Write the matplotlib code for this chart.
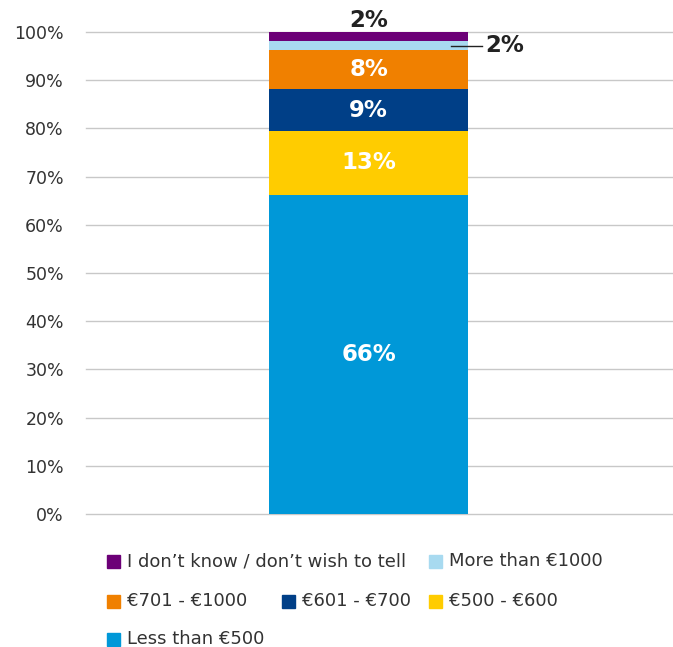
import matplotlib.pyplot as plt
from matplotlib.patches import Rectangle

# data, bottom to top
categories = ["Less than €500", "€500 - €600", "€601 - €700", "€701 - €1000",
              "More than €1000", "I don\u2019t know / don\u2019t wish to tell"]
values = [66.2, 13.3, 8.6, 8.1, 1.9, 1.9]
labels = ["66%", "13%", "9%", "8%", "2%", "2%"]
colors = ["#0098D8", "#FFCC00", "#003F87", "#F08000", "#A8DAF0", "#6C0077"]
yticks = [0, 10, 20, 30, 40, 50, 60, 70, 80, 90, 100]

plt.rcParams['font.family'] = ['DejaVu Sans']

fig = plt.figure(figsize=(6.73, 6.47), dpi=100)
ax = fig.add_axes([0.128, 0.2056, 0.872, 0.7449])

bottom = 0
for i, v in enumerate(values):
    ax.bar(0, v, width=0.5, bottom=bottom, color=colors[i], zorder=3)
    mid = bottom + v / 2
    if i < 4:
        ax.text(0, mid, labels[i], ha='center', va='center', color='white',
                fontsize=16.5, fontweight='bold', zorder=4)
    elif i == 4:
        # leader line to the right of the thin segment
        ax.plot([0.207, 0.285], [mid, mid], color='#222222', lw=1, zorder=4,
                clip_on=False)
        ax.text(0.293, mid, labels[i], ha='left', va='center', color='#222222',
                fontsize=16.5, fontweight='bold', zorder=4)
    else:
        ax.text(0, bottom + v + 0.1, labels[i], ha='center', va='bottom',
                color='#222222', fontsize=16.5, fontweight='bold', zorder=4,
                clip_on=False)
    bottom += v

ax.set_xlim(-0.71, 0.765)
ax.set_ylim(0, 100)
ax.set_yticks(yticks)
ax.set_yticklabels([f"{t}%" for t in yticks], fontsize=12.5, color='#333333')
ax.set_xticks([])
ax.tick_params(axis='y', length=0, pad=16)
ax.grid(axis='y', color='#C8C8C8', lw=1, zorder=0)
for gl in ax.get_ygridlines():
    gl.set_clip_on(False)
for s in ax.spines.values():
    s.set_visible(False)

# legend laid out in rows like the original
W, H = 673, 647
legend_pos = [
    (5, 107, 561), (4, 429, 561),
    (3, 107, 601), (2, 282, 601), (1, 429, 601),
    (0, 107, 639),
]
for idx, px, py in legend_pos:
    fig.patches.append(Rectangle((px / W, (H - py - 6.5) / H), 13 / W, 13 / H,
                                 transform=fig.transFigure, color=colors[idx]))
    fig.text((px + 20) / W, (H - py) / H, categories[idx], fontsize=13,
             color='#333333', va='center', ha='left')

fig.savefig("out.png", dpi=100)
